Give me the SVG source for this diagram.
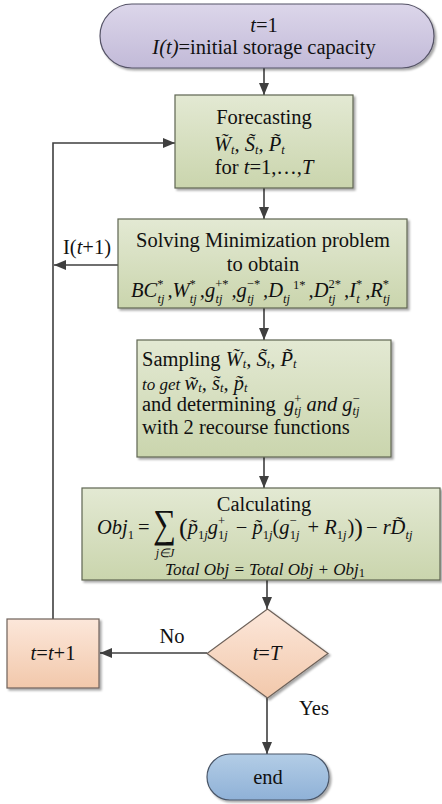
<svg xmlns="http://www.w3.org/2000/svg" width="442" height="804" viewBox="0 0 442 804">
<style>
text{font-family:"Liberation Serif","Times New Roman",serif;font-size:20.5px;fill:#111}
.i{font-style:italic}
.n{font-style:normal}
.s{font-size:12.5px}
.sm{font-size:17px}
.c{text-anchor:middle}
.ln{fill:none;stroke:#3f3f3f;stroke-width:1.6}
.gbox{fill:url(#gg);stroke:#5f6652;stroke-width:1.2}
.obox{fill:url(#go);stroke:#6e625a;stroke-width:1.2}
</style>
<defs>
<linearGradient id="gp" x1="0" y1="0" x2="0" y2="1"><stop offset="0" stop-color="#dcd6ea"/><stop offset="1" stop-color="#c2bad8"/></linearGradient>
<linearGradient id="gg" x1="0" y1="0" x2="0" y2="1"><stop offset="0" stop-color="#e3e9d3"/><stop offset="1" stop-color="#cad5ad"/></linearGradient>
<linearGradient id="go" x1="0" y1="0" x2="0" y2="1"><stop offset="0" stop-color="#fce7da"/><stop offset="1" stop-color="#f2c8ab"/></linearGradient>
<linearGradient id="gb" x1="0" y1="0" x2="0" y2="1"><stop offset="0" stop-color="#b3cde6"/><stop offset="1" stop-color="#8fb1d7"/></linearGradient>
<filter id="sh" x="-10%" y="-10%" width="125%" height="130%"><feDropShadow dx="2" dy="2" stdDeviation="1.2" flood-color="#000" flood-opacity="0.35"/></filter>
<marker id="ah" viewBox="0 0 12 10" refX="12" refY="5" markerWidth="12" markerHeight="10" markerUnits="userSpaceOnUse" orient="auto"><path d="M0,0 L12,5 L0,10 z" fill="#3f3f3f"/></marker>
</defs>

<g id="connectors">
<line class="ln" x1="264" y1="68" x2="264" y2="95" marker-end="url(#ah)"/>
<line class="ln" x1="264" y1="188" x2="264" y2="219" marker-end="url(#ah)"/>
<line class="ln" x1="264" y1="308" x2="264" y2="340" marker-end="url(#ah)"/>
<line class="ln" x1="264" y1="457" x2="264" y2="488" marker-end="url(#ah)"/>
<line class="ln" x1="267" y1="580" x2="267" y2="609" marker-end="url(#ah)"/>
<line class="ln" x1="267" y1="698" x2="267" y2="754" marker-end="url(#ah)"/>
<line class="ln" x1="207" y1="653" x2="100" y2="653" marker-end="url(#ah)"/>
<polyline class="ln" points="53,619 53,143 175,143" marker-end="url(#ah)"/>
<line class="ln" x1="118" y1="265" x2="54" y2="265" marker-end="url(#ah)"/>
<text class="c" x="87" y="254">I(<tspan class="i">t</tspan>+1)</text>
<text class="c" x="172" y="643">No</text>
<text class="c" x="314" y="715">Yes</text>
</g>

<g id="start">
<rect x="100" y="4" width="334" height="64" rx="32" ry="32" fill="url(#gp)" stroke="#555366" stroke-width="1.2" filter="url(#sh)"/>
<text class="c" x="264" y="32"><tspan class="i">t</tspan>=1</text>
<text class="c" x="264" y="54"><tspan class="i">I(t)</tspan>=initial storage capacity</text>
</g>

<g id="forecasting">
<rect class="gbox" x="175" y="95" width="178" height="93" filter="url(#sh)"/>
<text class="c" x="264" y="124">Forecasting</text>
<text class="i" x="214" y="151">W̃<tspan class="s" dy="3">t</tspan><tspan dy="-3">, </tspan>S̃<tspan class="s" dy="3">t</tspan><tspan dy="-3">, </tspan>P̃<tspan class="s" dy="3">t</tspan></text>
<text class="c" x="264" y="174">for <tspan class="i">t</tspan>=1,…,<tspan class="i">T</tspan></text>
</g>

<g id="solving">
<rect class="gbox" x="118" y="219" width="289" height="89" filter="url(#sh)"/>
<text class="c" x="263" y="247">Solving Minimization problem</text>
<text class="c" x="263" y="271">to obtain</text>
<text class="i" x="131" y="297">BC<tspan class="s n" dy="-9">*</tspan><tspan class="s" dx="-6" dy="15">tj</tspan><tspan dx="3" dy="-6">,</tspan>W<tspan class="s n" dy="-9">*</tspan><tspan class="s" dx="-6" dy="15">tj</tspan><tspan dx="3" dy="-6">,</tspan>g<tspan class="s n" dy="-9">+*</tspan><tspan class="s" dx="-13" dy="15">tj</tspan><tspan dx="9" dy="-6">,</tspan>g<tspan class="s n" dy="-9">−*</tspan><tspan class="s" dx="-13" dy="15">tj</tspan><tspan dx="9" dy="-6">,</tspan>D<tspan class="s" dy="6">tj</tspan><tspan class="s n" dy="-14"> 1*</tspan><tspan dx="3" dy="8">,</tspan>D<tspan class="s n" dy="-9">2*</tspan><tspan class="s" dx="-12.5" dy="15">tj</tspan><tspan dx="8.5" dy="-6">,</tspan>I<tspan class="s n" dy="-9">*</tspan><tspan class="s" dx="-6" dy="15">t</tspan><tspan dx="5.5" dy="-6">,</tspan>R<tspan class="s n" dy="-9">*</tspan><tspan class="s" dx="-6" dy="15">tj</tspan></text>
</g>

<g id="sampling">
<rect class="gbox" x="137" y="340" width="254" height="117" filter="url(#sh)"/>
<text x="142" y="366">Sampling <tspan class="i">W̃</tspan><tspan class="i s" dy="2">t</tspan><tspan class="i" dy="-2">, </tspan><tspan class="i">S̃</tspan><tspan class="i s" dy="2">t</tspan><tspan class="i" dy="-2">, </tspan><tspan class="i">P̃</tspan><tspan class="i s" dy="2">t</tspan></text>
<text class="i" x="142" y="390"><tspan class="sm">to get </tspan>w̃<tspan class="s" dy="2">t</tspan><tspan dy="-2">, </tspan>s̃<tspan class="s" dy="2">t</tspan><tspan dy="-2">, </tspan>p̃<tspan class="s" dy="2">t</tspan></text>
<text x="142" y="411">and determining<tspan class="i" x="284">g</tspan><tspan class="s" dy="-8">+</tspan><tspan class="s i" dx="-7" dy="12">tj</tspan><tspan class="i" dy="-4"> and </tspan><tspan class="i">g</tspan><tspan class="s" dy="-8">−</tspan><tspan class="s i" dx="-7" dy="12">tj</tspan></text>
<text x="142" y="434">with 2 recourse functions</text>
</g>

<g id="calculating">
<rect class="gbox" x="82" y="488" width="358" height="92" filter="url(#sh)"/>
<text class="c" x="264" y="511">Calculating</text>
<text class="i" x="97" y="534">Obj<tspan class="s n" dy="5">1</tspan><tspan class="n" dx="4" dy="-5">=</tspan></text>
<text transform="translate(153,537) scale(0.8,1)" style="font-size:40px">∑</text>
<text class="i c" x="165" y="557" style="font-size:12px">j∈J</text>
<text class="i" x="179" y="534"><tspan class="n" style="font-size:26px" dy="2">(</tspan><tspan dy="-2">p̃</tspan><tspan class="s" dy="5"><tspan class="n">1</tspan>j</tspan><tspan dy="-5">g</tspan><tspan class="s n" dy="-9">+</tspan><tspan class="s" dx="-7" dy="14"><tspan class="n">1</tspan>j</tspan><tspan class="n" dx="3" dy="-5"> − </tspan>p̃<tspan class="s" dy="5"><tspan class="n">1</tspan>j</tspan><tspan class="n" dy="-5">(</tspan>g<tspan class="s n" dy="-9">−</tspan><tspan class="s" dx="-7" dy="14"><tspan class="n">1</tspan>j</tspan><tspan class="n" dx="3" dy="-5"> + </tspan>R<tspan class="s" dy="5"><tspan class="n">1</tspan>j</tspan><tspan class="n" dx="1" dy="-5">)</tspan><tspan class="n" style="font-size:26px" dy="2">)</tspan><tspan class="n" dx="3" dy="-2">− </tspan>rD̃<tspan class="s" dy="5">tj</tspan></text>
<text class="i c sm" x="265" y="575">Total Obj = Total Obj + Obj<tspan class="s n" dy="2">1</tspan></text>
</g>

<g id="decision">
<polygon class="obox" points="267.5,609 328,653.5 267.5,698 207,653.5" filter="url(#sh)"/>
<text class="c" x="267" y="660"><tspan class="i">t</tspan>=<tspan class="i">T</tspan></text>
</g>

<g id="increment">
<rect class="obox" x="7" y="619" width="92" height="69" filter="url(#sh)"/>
<text class="c" x="53" y="660"><tspan class="i">t</tspan>=<tspan class="i">t</tspan>+1</text>
</g>

<g id="end">
<rect x="207" y="754" width="122" height="46" rx="23" ry="23" fill="url(#gb)" stroke="#4a5668" stroke-width="1.2" filter="url(#sh)"/>
<text class="c" x="268" y="784">end</text>
</g>
</svg>
